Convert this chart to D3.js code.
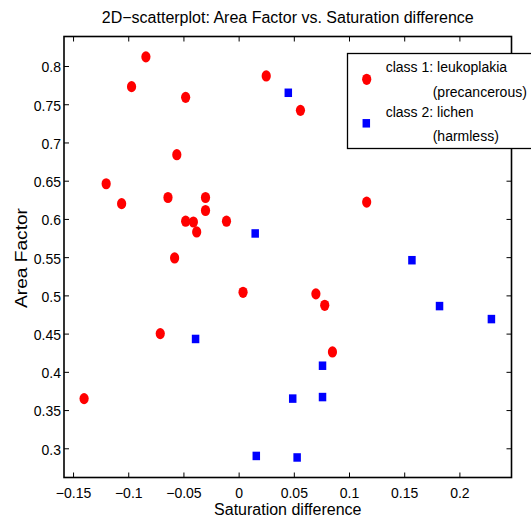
<!DOCTYPE html>
<html>
<head>
<meta charset="utf-8">
<script src="https://cdn.jsdelivr.net/npm/d3@7"></script>
<style>
  html, body { margin: 0; padding: 0; background: #fff; }
  text { font-family: "Liberation Sans", Arial, Helvetica, sans-serif; fill: #000; }
</style>
</head>
<body>
<svg id="chart" width="531" height="519"></svg>
<script>
// ---- data ----
const class1X = [-0.084, -0.097, -0.048, 0.025, 0.056, -0.056, -0.120, -0.106, -0.064, -0.030, -0.030, -0.048, -0.041, -0.011, -0.038, -0.058, 0.004, -0.071, -0.140, 0.116, 0.070, 0.078, 0.085];
const class1Y = [0.812, 0.773, 0.759, 0.787, 0.742, 0.684, 0.646, 0.620, 0.628, 0.628, 0.611, 0.597, 0.596, 0.597, 0.583, 0.549, 0.504, 0.450, 0.365, 0.622, 0.502, 0.487, 0.426];
const class2X = [0.045, 0.015, -0.039, 0.049, 0.016, 0.053, 0.157, 0.182, 0.229, 0.076, 0.076];
const class2Y = [0.765, 0.581, 0.443, 0.365, 0.290, 0.288, 0.546, 0.486, 0.469, 0.408, 0.367];
const xTicks = [-0.15, -0.1, -0.05, 0, 0.05, 0.1, 0.15, 0.2];
const xTickLabels = ["\u22120.15", "\u22120.1", "\u22120.05", "0", "0.05", "0.1", "0.15", "0.2"];
const yTicks = [0.3, 0.35, 0.4, 0.45, 0.5, 0.55, 0.6, 0.65, 0.7, 0.75, 0.8];
const yTickLabels = ["0.3", "0.35", "0.4", "0.45", "0.5", "0.55", "0.6", "0.65", "0.7", "0.75", "0.8"];
const legendLabels = [["class 1: leukoplakia", "(precancerous)"], ["class 2: lichen", "(harmless)"]];
const titleText = "2D\u2212scatterplot: Area Factor vs. Saturation difference";
const xLabel = "Saturation difference";
const yLabel = "Area Factor";

// ---- layout ----
const L = 64, R = 511.5, T = 36.5, B = 477.5;
const svg = d3.select("#chart");
const x = d3.scaleLinear().domain([-0.1582, 0.2472]).range([L, R]);
const y = d3.scaleLinear().domain([0.2618, 0.8386]).range([B, T]);
const tickLen = 5;

// frame
svg.append("rect").attr("x", L).attr("y", T).attr("width", R - L).attr("height", B - T)
  .attr("fill", "none").attr("stroke", "#000").attr("stroke-width", 1.6);

// axes using d3 axis generators (inward ticks)
const fmtX = (d) => xTickLabels[xTicks.indexOf(d)];
const fmtY = (d) => yTickLabels[yTicks.indexOf(d)];

const gx = svg.append("g").attr("transform", `translate(0,${B})`)
  .call(d3.axisBottom(x).tickValues(xTicks).tickFormat(fmtX).tickSizeInner(-tickLen).tickSizeOuter(0).tickPadding(13));
const gxTop = svg.append("g").attr("transform", `translate(0,${T})`)
  .call(d3.axisTop(x).tickValues(xTicks).tickFormat("").tickSizeInner(-tickLen).tickSizeOuter(0));
const gy = svg.append("g").attr("transform", `translate(${L},0)`)
  .call(d3.axisLeft(y).tickValues(yTicks).tickFormat(fmtY).tickSizeInner(-tickLen).tickSizeOuter(0).tickPadding(8));
const gyRight = svg.append("g").attr("transform", `translate(${R},0)`)
  .call(d3.axisRight(y).tickValues(yTicks).tickFormat("").tickSizeInner(-tickLen).tickSizeOuter(0));

[gx, gxTop, gy, gyRight].forEach(g => {
  g.select(".domain").remove();
  g.selectAll(".tick line").attr("stroke", "#000").attr("stroke-width", 1);
  g.selectAll(".tick text").attr("font-size", 14).attr("fill", "#000")
    .style("font-family", '"Liberation Sans", Arial, sans-serif');
});
gx.selectAll(".tick text").attr("dy", null).attr("y", 20.5);
gy.selectAll(".tick text").attr("dy", "0.42em").attr("x", -3);

// points
svg.append("g").selectAll("ellipse").data(class1X.map((v, i) => [v, class1Y[i]])).join("ellipse")
  .attr("cx", d => x(d[0])).attr("cy", d => y(d[1]))
  .attr("rx", 4.6).attr("ry", 5.6).attr("fill", "#ff0000");

const sw = 7.5, sh = 8.5;
svg.append("g").selectAll("rect").data(class2X.map((v, i) => [v, class2Y[i]])).join("rect")
  .attr("x", d => x(d[0]) - sw / 2).attr("y", d => y(d[1]) - sh / 2)
  .attr("width", sw).attr("height", sh).attr("fill", "#0000ff");

// legend
const lg = svg.append("g");
lg.append("rect").attr("x", 347.5).attr("y", 53.5).attr("width", 200).attr("height", 95)
  .attr("fill", "#fff").attr("stroke", "#000").attr("stroke-width", 1.3);
lg.append("ellipse").attr("cx", 366.7).attr("cy", 79.3).attr("rx", 4.6).attr("ry", 5.6).attr("fill", "#ff0000");
lg.append("rect").attr("x", 366.3 - sw / 2).attr("y", 123.3 - sh / 2).attr("width", sw).attr("height", sh).attr("fill", "#0000ff");
const legendPos = [[[385.7, 72], [432.7, 97]], [[385.7, 117], [432.7, 141]]];
legendLabels.forEach((pair, i) => {
  pair.forEach((t, j) => {
    lg.append("text").attr("x", legendPos[i][j][0]).attr("y", legendPos[i][j][1])
      .attr("font-size", 14).text(t);
  });
});

// title and axis labels
svg.append("text").attr("x", (L + R) / 2).attr("y", 23).attr("text-anchor", "middle")
  .attr("font-size", 16).text(titleText);
svg.append("text").attr("x", (L + R) / 2).attr("y", 514.5).attr("text-anchor", "middle")
  .attr("font-size", 16).text(xLabel);
svg.append("text").attr("transform", "translate(26.5,258) rotate(-90)").attr("text-anchor", "middle")
  .attr("font-size", 16).attr("textLength", 100).attr("lengthAdjust", "spacingAndGlyphs").text(yLabel);
</script>
</body>
</html>
